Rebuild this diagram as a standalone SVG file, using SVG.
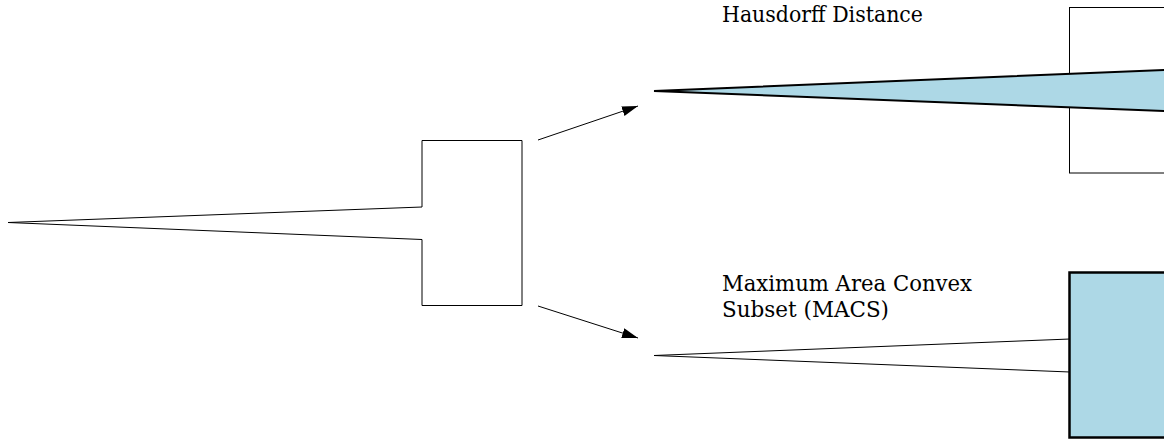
<svg xmlns="http://www.w3.org/2000/svg" width="1164" height="440" viewBox="0 0 1164 440">
  <style>
    .thin { fill: none; stroke: #000; stroke-width: 1; }
    .blue { fill: #ADD8E6; stroke: #000; stroke-linejoin: miter; }
    .lbl { font-family: 'DejaVu Serif', 'Liberation Serif', serif; font-size: 22px; fill: #000; }
    .conn { stroke: #000; stroke-width: 1; fill: none; }
  </style>
  <defs>
    <marker id="arr" markerWidth="16" markerHeight="10" refX="16" refY="5" orient="auto" markerUnits="userSpaceOnUse">
      <path d="M0,0 L16,5 L0,10 Z" fill="#000"/>
    </marker>
  </defs>
  <rect width="1164" height="440" fill="#fff"/>

  <g id="source">
    <path class="thin" d="M8,222.5 L422,207 L422,140.5 L522,140.5 L522,305.5 L422,305.5 L422,239.5 Z"/>
  </g>

  <g id="connectors">
    <line class="conn" x1="538" y1="140" x2="638" y2="106" marker-end="url(#arr)"/>
    <line class="conn" x1="538" y1="306" x2="638" y2="338" marker-end="url(#arr)"/>
  </g>

  <g id="hausdorff">
    <text class="lbl" x="722" y="22" textLength="201" lengthAdjust="spacingAndGlyphs">Hausdorff Distance</text>
    <rect class="thin" x="1069.5" y="7.5" width="120" height="165.5"/>
    <path class="blue" stroke-width="2" d="M654,91 L1200,68.5 L1200,112.5 Z"/>
  </g>

  <g id="macs">
    <text class="lbl" x="722" y="291" textLength="250" lengthAdjust="spacingAndGlyphs">Maximum Area Convex</text>
    <text class="lbl" x="722" y="317" textLength="167" lengthAdjust="spacingAndGlyphs">Subset (MACS)</text>
    <path class="thin" d="M654,355.5 L1070,339 M654,355.5 L1070,372"/>
    <rect class="blue" stroke-width="2.5" x="1069.5" y="272.5" width="120" height="165"/>
  </g>
</svg>
